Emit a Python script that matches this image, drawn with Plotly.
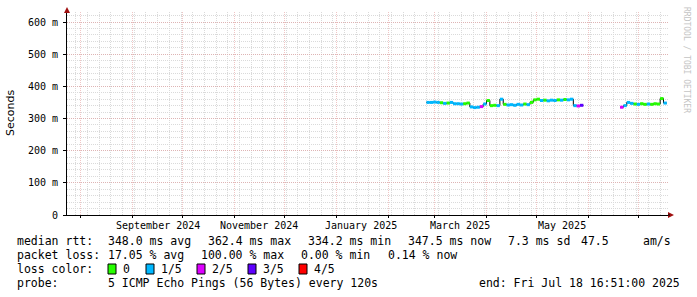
import plotly.graph_objects as go
import pandas as pd

# ---------------- data ----------------
step_days = 2
seg1_start = "2025-02-24"
seg1_rtt = [0.350, 0.350, 0.351, 0.350, 0.349, 0.347, 0.348, 0.350, 0.346, 0.346,
            0.345, 0.346, 0.348, 0.336, 0.334, 0.335, 0.337, 0.345, 0.356, 0.340,
            0.341, 0.340, 0.360, 0.344, 0.342, 0.343, 0.341, 0.344, 0.342, 0.345,
            0.343, 0.350, 0.358, 0.360, 0.356, 0.357, 0.355, 0.357, 0.356, 0.358,
            0.357, 0.359, 0.358, 0.360, 0.340, 0.339, 0.341]
seg1_loss = [1, 1, 1, 1, 0, 1, 0, 1, 1, 1,
             1, 0, 0, 1, 1, 1, 2, 1, 0, 0,
             0, 1, 1, 0, 1, 1, 1, 1, 1, 0,
             1, 0, 0, 0, 1, 0, 1, 1, 1, 0,
             1, 0, 1, 1, 1, 2, 3]
seg2_start = "2025-06-20"
seg2_rtt = [0.335, 0.340, 0.350, 0.347, 0.345, 0.344, 0.346, 0.344, 0.345, 0.344,
            0.346, 0.345, 0.362, 0.348]
seg2_loss = [2, 1, 1, 1, 0, 1, 0, 0, 1, 0, 0, 0, 0, 1]

loss_labels = ["0", "1/5", "2/5", "3/5", "4/5"]
loss_colors = ["#26ff00", "#00b8ff", "#dd00ff", "#5e00ff", "#ff0000"]

x_start = "2024-07-23 16:51"
x_end = "2025-07-18 16:51"
month_grid_start = "2024-08-01"
week_grid_start = "2024-07-29"
month_labels = ["September 2024", "November 2024", "January 2025", "March 2025", "May 2025"]
month_label_dates = ["2024-09-16", "2024-11-16", "2025-01-16", "2025-03-16", "2025-05-16"]

ytick_vals = [0, 0.1, 0.2, 0.3, 0.4, 0.5, 0.6]
ytick_text = ["0", "100 m", "200 m", "300 m", "400 m", "500 m", "600 m"]
y_top = 0.6311

stats_rtt = [("median rtt:", 16), ("348.0 ms avg", 107), ("362.4 ms max", 207),
             ("334.2 ms min", 307), ("347.5 ms now", 407), ("7.3 ms sd", 507),
             ("47.5", 580), ("am/s", 642)]
stats_loss = [("packet loss:", 16), ("17.05 % avg", 107), ("100.00 % max", 200),
              ("0.00 % min", 300), ("0.14 % now", 387)]
legend_x = [108, 146, 197, 248, 299]
probe_line = [("probe:", 16), ("5 ICMP Echo Pings (56 Bytes) every 120s", 107),
              ("end: Fri Jul 18 16:51:00 2025", 478)]

# ---------------- geometry ----------------
W, H = 697, 297
L, R, T, B = 67, 668, 12, 215
MONO = "DejaVu Sans Mono"
MAJOR_GRID = "rgba(225,150,150,0.55)"
MINOR_GRID = "#dadada"


def px(x):
    return (x - L) / (R - L)


def py(y):
    return (B - y) / (B - T)


fig = go.Figure()

segments = [(seg1_start, seg1_rtt, seg1_loss), (seg2_start, seg2_rtt, seg2_loss)]
step = pd.Timedelta(days=step_days)

# black "smoke"/step outline
bx, by = [], []
for start, rtt, loss in segments:
    d = pd.date_range(start, periods=len(rtt), freq=f"{step_days}D")
    bx += list(d) + [d[-1] + step, None]
    by += list(rtt) + [rtt[-1], None]
fig.add_trace(go.Scatter(x=bx, y=by, mode="lines", line=dict(color="#000000", width=1, shape="hv"),
                         hoverinfo="skip", showlegend=False))

# coloured median segments
for ci, col in enumerate(loss_colors):
    cx, cy = [], []
    for start, rtt, loss in segments:
        d = pd.date_range(start, periods=len(rtt), freq=f"{step_days}D")
        for t, v, l in zip(d, rtt, loss):
            if l == ci:
                cx += [t, t + step, None]
                cy += [v, v, None]
    if cx:
        fig.add_trace(go.Scatter(x=cx, y=cy, mode="lines", line=dict(color=col, width=3),
                                 hoverinfo="skip", showlegend=False))

annotations = []
shapes = []

# month labels
for lab, dt in zip(month_labels, month_label_dates):
    annotations.append(dict(x=dt, xref="x", y=py(225), yref="paper", text=lab, showarrow=False,
                            xanchor="center", yanchor="middle", font=dict(family=MONO, size=10, color="#000")))

# y title
annotations.append(dict(x=px(11), y=py(113), xref="paper", yref="paper", text="Seconds", textangle=-90,
                        showarrow=False, xanchor="center", yanchor="middle",
                        font=dict(family="DejaVu Sans", size=11, color="#000")))
# watermark
annotations.append(dict(x=px(687), y=py(60), xref="paper", yref="paper", text="RRDTOOL / TOBI OETIKER",
                        textangle=90, showarrow=False, xanchor="center", yanchor="middle",
                        font=dict(family=MONO, size=8, color="#c4c4c4")))


def text_row(items, yrow):
    for txt, x in items:
        annotations.append(dict(x=px(x), y=py(yrow), xref="paper", yref="paper", text=txt,
                                showarrow=False, xanchor="left", yanchor="middle", borderpad=0,
                                font=dict(family=MONO, size=11.5, color="#000")))


text_row(stats_rtt, 241)
text_row(stats_loss, 255)
text_row([("loss color:", 16)], 269)
for x, lab, col in zip(legend_x, loss_labels, loss_colors):
    shapes.append(dict(type="rect", xref="paper", yref="paper", x0=px(x), x1=px(x + 8),
                       y0=py(274), y1=py(264), fillcolor=col, line=dict(color="#000", width=1)))
    text_row([(lab, x + 14)], 269)
text_row(probe_line, 283)

# axis arrows
shapes.append(dict(type="path", xref="paper", yref="paper",
                   path=f"M {px(67)} {py(7)} L {px(64)} {py(13)} L {px(70)} {py(13)} Z",
                   fillcolor="#a01010", line=dict(color="#a01010", width=0)))
shapes.append(dict(type="path", xref="paper", yref="paper",
                   path=f"M {px(674)} {py(215)} L {px(668)} {py(212)} L {px(668)} {py(218)} Z",
                   fillcolor="#a01010", line=dict(color="#a01010", width=0)))
shapes.append(dict(type="line", xref="paper", yref="paper", x0=px(R), x1=px(670), y0=0, y1=0,
                   line=dict(color="#000", width=1)))

fig.update_layout(
    width=W, height=H,
    margin=dict(l=L, r=W - R, t=T, b=H - B, pad=0),
    paper_bgcolor="#ffffff", plot_bgcolor="#ffffff",
    showlegend=False,
    annotations=annotations, shapes=shapes,
    xaxis=dict(type="date", range=[x_start, x_end], tick0=month_grid_start, dtick="M1",
               showticklabels=False, ticks="outside", ticklen=2, tickcolor="#000",
               showgrid=True, gridcolor=MAJOR_GRID, griddash="1px,1px", gridwidth=1,
               minor=dict(tick0=week_grid_start, dtick=7 * 24 * 3600 * 1000, showgrid=True,
                          gridcolor=MINOR_GRID, griddash="1px,1px", gridwidth=1),
               showline=True, linecolor="#000", linewidth=1, zeroline=False, fixedrange=True),
    yaxis=dict(range=[0, y_top], tickvals=ytick_vals, ticktext=ytick_text,
               tickfont=dict(family=MONO, size=10, color="#000"),
               ticks="outside", ticklen=3, tickcolor="#000", ticklabelstandoff=3,
               showgrid=True, gridcolor=MAJOR_GRID, griddash="1px,1px", gridwidth=1,
               minor=dict(dtick=0.02, tick0=0, showgrid=True, gridcolor=MINOR_GRID,
                          griddash="1px,1px", gridwidth=1),
               showline=True, linecolor="#000", linewidth=1, zeroline=False, fixedrange=True),
)

fig.write_html("out.html")
